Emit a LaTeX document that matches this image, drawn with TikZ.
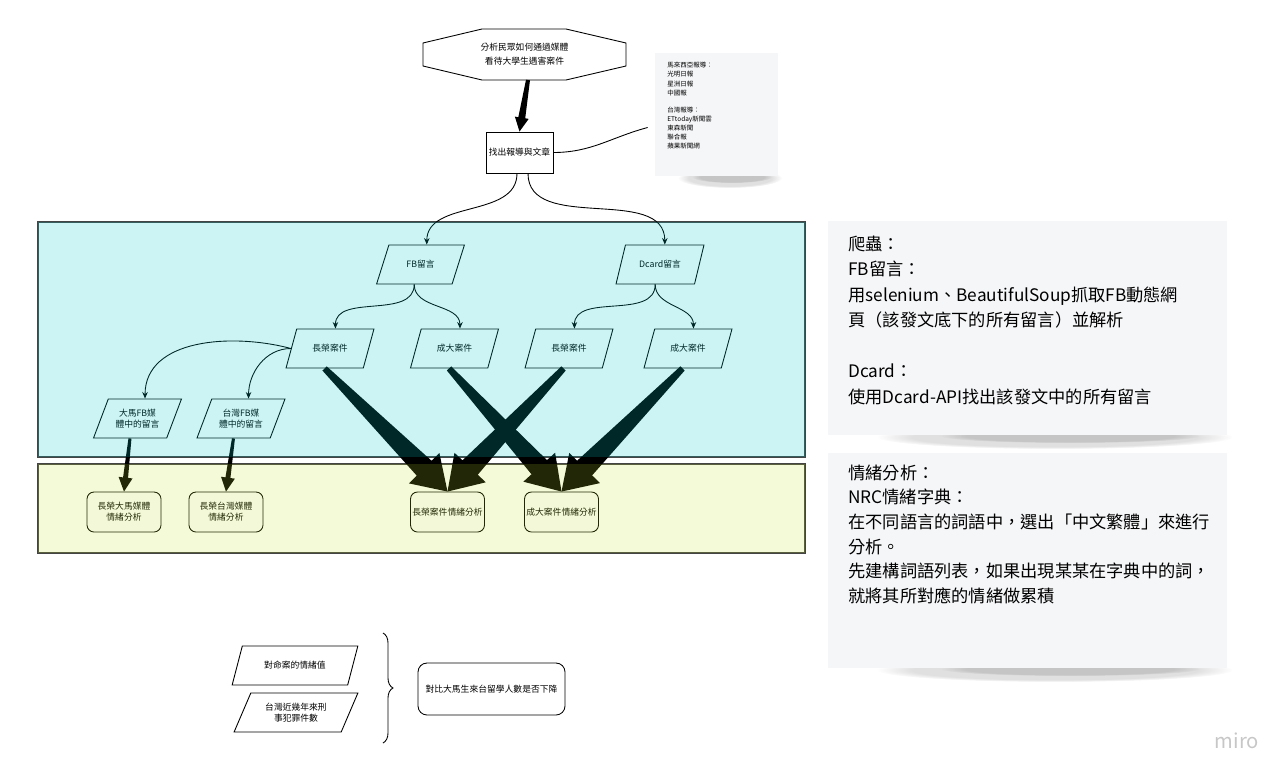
\documentclass[tikz,border=0pt]{standalone}
\usepackage{fontspec}
\setmainfont{Noto Sans CJK TC}
\usetikzlibrary{shapes.geometric,arrows.meta,calc,decorations.pathreplacing,fadings}

\definecolor{panelcyan}{RGB}{5,200,200}
\definecolor{panelyellow}{RGB}{194,222,39}
\definecolor{panelline}{RGB}{68,68,68}
\definecolor{paper}{RGB}{245,246,248}

% tapered arrow: from, to, start half width, end half width, head length, head half width
\newcommand\fatarrow[6]{%
  \coordinate (fa-b) at ($(#2)!#5!(#1)$);
  \fill ($(#1)!#3!90:(#2)$) -- ($(fa-b)!#4!90:(#2)$) -- ($(fa-b)!#6!90:(#2)$) -- (#2)
    -- ($(fa-b)!#6!-90:(#2)$) -- ($(fa-b)!#4!-90:(#2)$) -- ($(#1)!#3!-90:(#2)$) -- cycle;}

\begin{document}
\begin{tikzpicture}[x=0.2mm, y=0.2mm,
    every node/.style={font=\fontsize{5}{6.2}\selectfont, inner sep=1pt},
    flow/.style={-{Stealth[length=1.3mm, width=1.1mm]}, line width=0.5pt},
    datanode/.style={trapezium, trapezium left angle=62, trapezium right angle=118,
      trapezium stretches=true, draw, fill=white, line width=0.5pt,
      minimum width=17.6mm, minimum height=7.8mm, align=center},
    procbox/.style={draw, fill=white, rounded corners=1.4mm, line width=0.5pt,
      minimum width=14.8mm, minimum height=8mm, align=center},
    notetext/.style={anchor=north west, inner sep=0pt, align=left,
      font=\fontsize{9.8}{14.5}\selectfont},
    papershadow/.style={black, opacity=0.12, path fading=circle with fuzzy edge 20 percent}]

  \useasboundingbox (0,0) rectangle (1287,-776);

  % frames
  \draw[panelline, line width=0.85pt] (38,-222) rectangle (805,-457);
  \draw[panelline, line width=0.85pt] (38,-464) rectangle (805,-553);

  % question and sources
  \draw[line width=0.5pt] (482,-29) -- (566,-29) -- (626,-43) -- (626,-66) -- (566,-80)
    -- (482,-80) -- (423,-66) -- (423,-43) -- cycle;
  \node[align=center, font=\fontsize{5}{8}\selectfont] (goal) at (524.5,-54.5) {分析民眾如何通過媒體\\看待大學生遇害案件};
  \coordinate (goalbase) at (528,-80);
  \node[draw, fill=white, line width=0.5pt, minimum width=13.4mm, minimum height=8.2mm] (find) at (519.5,-152.5) {找出報導與文章};
  \fatarrow{goalbase}{find.north}{0.4mm}{0.7mm}{2.8mm}{1.4mm}

  % news sources note
  \fill[papershadow] (730,-178) ellipse [x radius=52, y radius=10];
  \fill[papershadow] (732,-177) ellipse [x radius=40, y radius=6];
  \node[fill=paper, minimum width=24.6mm, minimum height=24.6mm, inner sep=0pt] (srcpaper) at (716.5,-114.5) {};
  \node[notetext, font=\fontsize{3.7}{5.2}\selectfont] (srcnote) at (667,-62) {馬來西亞報導：\\光明日報\\星洲日報\\中國報\\[4.4pt]台灣報導：\\ETtoday新聞雲\\東森新聞\\聯合報\\蘋果新聞網};
  \draw[line width=0.5pt] (find.east) to[out=0, in=195] ([xshift=-1.4mm, yshift=-2.6mm]srcpaper.west);

  % FB and Dcard comments
  \node[datanode] (fbc) at (420.5,-264.5) {FB留言};
  \node[datanode] (dcc) at (660,-264.5) {Dcard留言};
  \draw[flow] ([xshift=-0.5mm]find.south) to[out=-90, in=90] (fbc.top side);
  \draw[flow] ([xshift=1.7mm]find.south) to[out=-90, in=90] (dcc.top side);

  % cases
  \node[datanode] (cgfb) at (330,-348.5) {長榮案件};
  \node[datanode] (ckfb) at (454.5,-348.5) {成大案件};
  \node[datanode] (cgdc) at (569,-348.5) {長榮案件};
  \node[datanode] (ckdc) at (688,-348.5) {成大案件};
  \draw[flow] (fbc.bottom side) to[out=-90, in=90] (cgfb.top side);
  \draw[flow] (fbc.bottom side) to[out=-90, in=90] (ckfb.top side);
  \draw[flow] (dcc.bottom side) to[out=-90, in=90] (cgdc.top side);
  \draw[flow] (dcc.bottom side) to[out=-90, in=90] (ckdc.top side);

  % media comments
  \node[datanode] (dmfb) at (137.5,-418.5) {大馬FB媒\\體中的留言};
  \node[datanode] (twfb) at (241,-418.5) {台灣FB媒\\體中的留言};
  \draw[flow] (cgfb.left side) to[out=165, in=90] (dmfb.top side);
  \draw[flow] (cgfb.left side) to[out=180, in=90] (twfb.top side);

  % sentiment analysis
  \node[procbox] (dmsent) at (124,-512) {長榮大馬媒體\\情緒分析};
  \node[procbox] (twsent) at (226,-512) {長榮台灣媒體\\情緒分析};
  \node[procbox] (cgsent) at (447.5,-512) {長榮案件情緒分析};
  \node[procbox] (cksent) at (561.5,-512) {成大案件情緒分析};
  \fatarrow{dmfb.bottom side}{dmsent.north}{0.3mm}{0.5mm}{2.8mm}{1.4mm}
  \fatarrow{twfb.bottom side}{twsent.north}{0.3mm}{0.5mm}{2.8mm}{1.4mm}
  \fatarrow{cgfb.bottom side}{cgsent.north}{0.6mm}{2.1mm}{6.6mm}{4.3mm}
  \fatarrow{ckfb.bottom side}{cksent.north}{0.6mm}{2.1mm}{6.6mm}{4.3mm}
  \fatarrow{cgdc.bottom side}{cgsent.north}{0.6mm}{2.1mm}{6.6mm}{4.3mm}
  \fatarrow{ckdc.bottom side}{cksent.north}{0.6mm}{2.1mm}{6.6mm}{4.3mm}

  % frame tints
  \fill[panelcyan, fill opacity=0.2] (38,-222) rectangle (805,-457);
  \fill[panelyellow, fill opacity=0.18] (38,-464) rectangle (805,-553);

  % comparison
  \node[datanode, minimum width=25.2mm] (murder) at (295,-665.5) {對命案的情緒值};
  \node[datanode, minimum width=24.8mm] (crime) at (296,-712.5) {台灣近幾年來刑\\事犯罪件數};
  \draw[decorate, decoration={brace, amplitude=2mm}, line width=0.5pt] (383,-633) -- (383,-743);
  \node[draw, rounded corners=1.8mm, line width=0.5pt, minimum width=29.4mm, minimum height=10.4mm] (compare) at (491.5,-689) {對比大馬生來台留學人數是否下降};

  % method notes
  \fill[papershadow] (1055,-437) ellipse [x radius=178, y radius=12];
  \fill[papershadow] (1070,-436) ellipse [x radius=130, y radius=7];
  \fill[paper] (828,-221) rectangle (1227,-435);
  \node[notetext] (crawl) at (848,-235.5) {爬蟲：\\FB留言：\\用selenium、BeautifulSoup抓取FB動態網\\頁（該發文底下的所有留言）並解析\\[14.5pt]Dcard：\\使用Dcard-API找出該發文中的所有留言};

  \fill[papershadow] (1055,-670) ellipse [x radius=178, y radius=12];
  \fill[papershadow] (1070,-669) ellipse [x radius=130, y radius=7];
  \fill[paper] (828,-453) rectangle (1227,-668);
  \node[notetext, font=\fontsize{9.8}{14}\selectfont] (sentinote) at (848,-464.5) {情緒分析：\\NRC情緒字典：\\在不同語言的詞語中，選出「中文繁體」來進行\\分析。\\先建構詞語列表，如果出現某某在字典中的詞，\\就將其所對應的情緒做累積};

  \node[text=black!22, font=\fontsize{11.5}{11.5}\selectfont] (miro) at (1237,-741) {miro};
\end{tikzpicture}
\end{document}
